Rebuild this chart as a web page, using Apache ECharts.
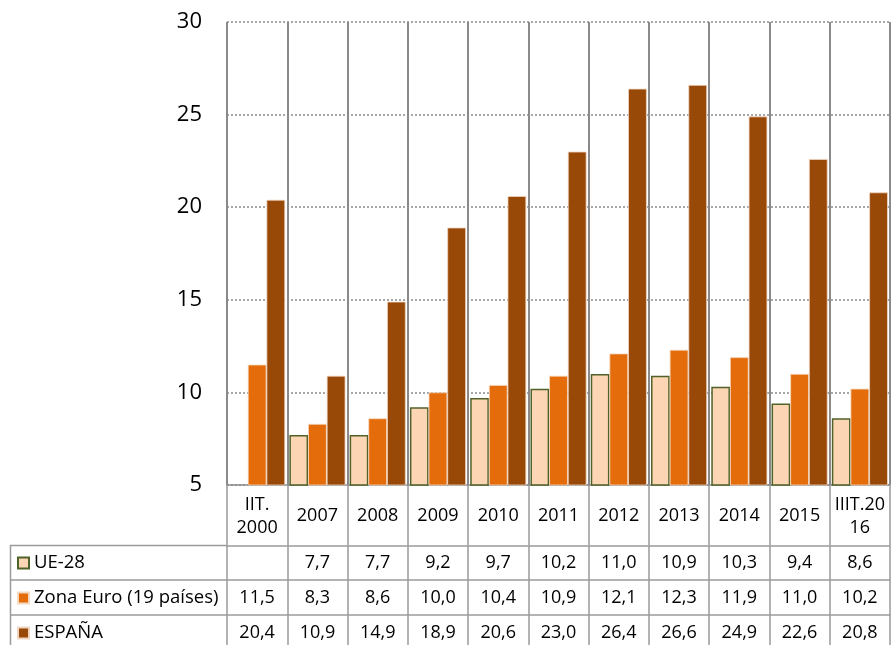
<!DOCTYPE html>
<html>
<head>
<meta charset="utf-8">
<script src="https://cdn.jsdelivr.net/npm/echarts@6/dist/echarts.min.js"></script>
<style>html,body{margin:0;padding:0;background:#fff}#c{width:891px;height:645px}</style>
</head>
<body>
<div id="c"></div>
<script>
var categories = ['IIT.\n2000','2007','2008','2009','2010','2011','2012','2013','2014','2015','IIIT.20\n16'];
var seriesNames = ['UE-28','Zona Euro (19 países)','ESPAÑA'];
var ue28   = [null,7.7,7.7,9.2,9.7,10.2,11.0,10.9,10.3,9.4,8.6];
var zona   = [11.5,8.3,8.6,10.0,10.4,10.9,12.1,12.3,11.9,11.0,10.2];
var espana = [20.4,10.9,14.9,18.9,20.6,23.0,26.4,26.6,24.9,22.6,20.8];
var yMin = 5, yMax = 30, yInterval = 5;

var FONT = '"Open Sans", "Liberation Sans", sans-serif';
var GRID_COLOR = '#8a8a8a';
var TABLE_COLOR = '#9a9a9a';

function fmt(arr){ return arr.map(function(v){ return v == null ? '' : v.toFixed(1).replace('.', ','); }); }

function rowAxis(labels, offset){
  return {
    type: 'category', gridIndex: 0, position: 'bottom', offset: offset,
    data: labels,
    axisLine: {show: true, lineStyle: {color: TABLE_COLOR, width: 1.5}},
    axisTick: {show: true, interval: 0, length: 35, lineStyle: {color: TABLE_COLOR, width: 1.5}},
    axisLabel: {interval: 0, margin: 17.5, verticalAlign: 'middle', color: '#000', fontSize: 18, fontFamily: FONT},
    splitLine: {show: false}
  };
}

var chart = echarts.init(document.getElementById('c'), null, {renderer: 'canvas'});
chart.setOption({
  animation: false,
  backgroundColor: '#fff',
  grid: {left: 227, right: 1, top: 22, bottom: 160, containLabel: false},
  legend: {
    orient: 'vertical', left: 17, top: 553, padding: 0,
    itemWidth: 11, itemHeight: 11, itemGap: 15,
    icon: 'rect',
    textStyle: {fontSize: 18.5, fontFamily: FONT, color: '#000', lineHeight: 20},
    data: seriesNames
  },
  xAxis: [
    {
      type: 'category', data: categories, position: 'bottom',
      axisLine: {show: true, lineStyle: {color: GRID_COLOR, width: 1.5}},
      axisTick: {show: true, interval: 0, length: 60, lineStyle: {color: TABLE_COLOR, width: 1.5}},
      axisLabel: {interval: 0, margin: 31, verticalAlign: 'middle', color: '#000', fontSize: 18, lineHeight: 23, fontFamily: FONT},
      splitLine: {show: true, interval: 0, lineStyle: {color: GRID_COLOR, width: 2}}
    },
    rowAxis(fmt(ue28), 60.5),
    rowAxis(fmt(zona), 95),
    rowAxis(fmt(espana), 130)
  ],
  yAxis: {
    type: 'value', min: yMin, max: yMax, interval: yInterval,
    axisLine: {show: false}, axisTick: {show: false},
    axisLabel: {margin: 25, color: '#000', fontSize: 22, fontFamily: FONT},
    splitLine: {show: true, lineStyle: {color: GRID_COLOR, width: 1.5, type: [2, 2]}}
  },
  series: [
    {name: seriesNames[0], type: 'bar', data: ue28, barGap: 0, barCategoryGap: '7%',
     itemStyle: {color: '#FCD5B5', borderColor: '#4F6228', borderWidth: 1.5}},
    {name: seriesNames[1], type: 'bar', data: zona, barGap: 0, barCategoryGap: '7%',
     itemStyle: {color: '#E46C0A', borderColor: '#f6d8bf', borderWidth: 0.8}},
    {name: seriesNames[2], type: 'bar', data: espana, barGap: 0, barCategoryGap: '7%',
     itemStyle: {color: '#984807', borderColor: '#f0d6c2', borderWidth: 0.8}}
  ],
  graphic: [
    {type: 'line', shape: {x1: 10, y1: 545.5, x2: 227, y2: 545.5}, style: {stroke: TABLE_COLOR, lineWidth: 1.5}, silent: true},
    {type: 'line', shape: {x1: 10, y1: 580, x2: 227, y2: 580}, style: {stroke: TABLE_COLOR, lineWidth: 1.5}, silent: true},
    {type: 'line', shape: {x1: 10, y1: 615, x2: 227, y2: 615}, style: {stroke: TABLE_COLOR, lineWidth: 1.5}, silent: true},
    {type: 'line', shape: {x1: 10.5, y1: 545, x2: 10.5, y2: 645}, style: {stroke: TABLE_COLOR, lineWidth: 1.5}, silent: true}
  ]
});
</script>
</body>
</html>
